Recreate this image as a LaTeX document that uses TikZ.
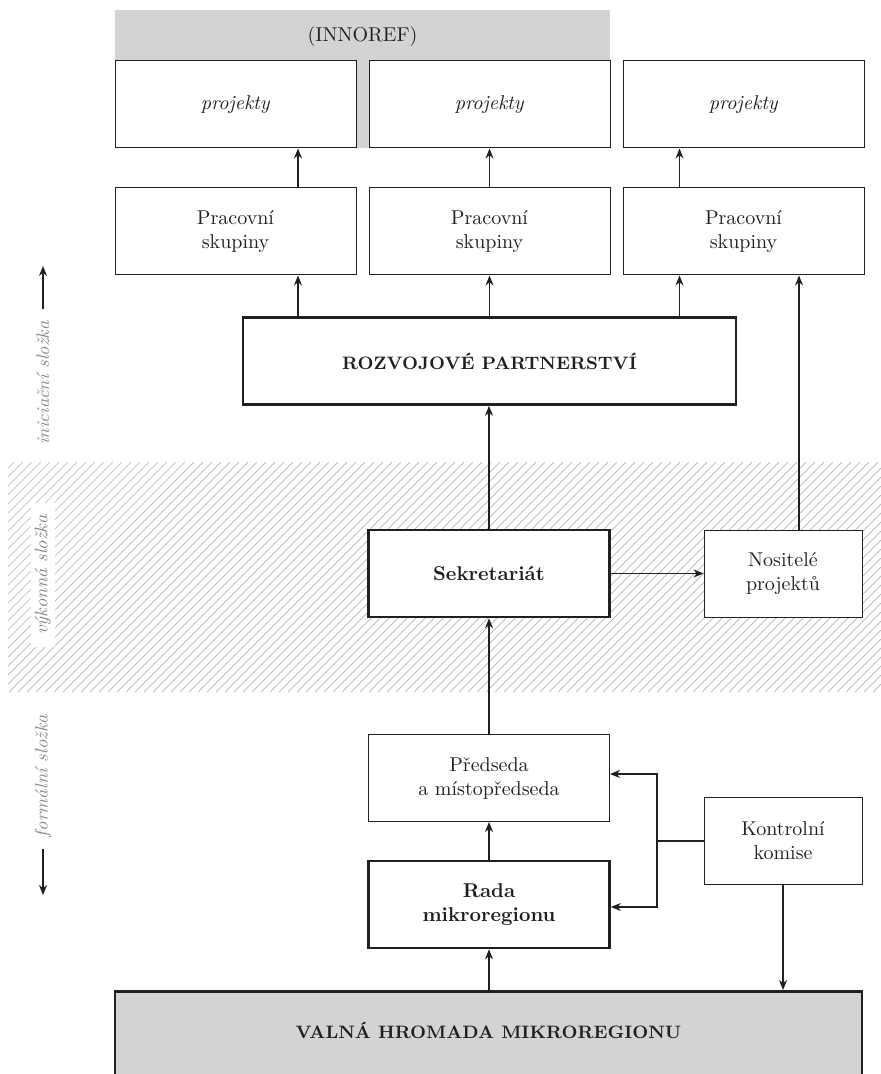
\documentclass[tikz,border=0pt]{standalone}
\usepackage{fontspec}
\usepackage{amsmath, amssymb}
\usepackage{color}
\usetikzlibrary{arrows.meta}

\definecolor{ink}{HTML}{231F20}
\definecolor{boxgray}{HTML}{D1D3D4}
\definecolor{labelgray}{HTML}{8A8A8A}
\definecolor{hatchgray}{HTML}{B4B4B4}

\begin{document}
\begin{tikzpicture}[x=0.5pt, y=-0.5pt, >={Stealth[length=5pt, width=4pt]},
	box/.style={draw=ink, line width=0.5pt, fill=white, minimum width=120.5pt, minimum height=43.5pt, align=center, inner sep=0pt, text=ink},
	boldbox/.style={box, line width=1.3pt},
	link/.style={draw=ink, line width=0.6pt, ->},
	sidelabel/.style={rotate=90, font=\small\itshape, text=labelgray, inner xsep=6pt, inner ysep=2pt}]
	\useasboundingbox (0,0) rectangle (881,1074);
	%innoref band
	\fill[boxgray] (115,10) rectangle (610,148);
	\node[text=ink] (innoref) at (362.5,37) {(INNOREF)};
	%hatched strip
	\begin{scope}
		\clip (8,462) rectangle (881,692);
		\foreach \i in {-26,...,98}
			\draw[hatchgray, line width=0.35pt] (\i*9,692) -- ++(230,-230);
	\end{scope}
	%top row
	\node[box] (proj1) at (235.5,104.5) {\textit{projekty}};
	\node[box] (proj2) at (489.5,104.5) {\textit{projekty}};
	\node[box] (proj3) at (743.5,104.5) {\textit{projekty}};
	\node[box] (prac1) at (235.5,231.5) {Pracovní\\skupiny};
	\node[box] (prac2) at (489.5,231.5) {Pracovní\\skupiny};
	\node[box] (prac3) at (743.5,231.5) {Pracovní\\skupiny};
	\node[boldbox, minimum width=246.5pt, font=\small\bfseries] (rozvoj) at (489.5,361) {ROZVOJOVÉ PARTNERSTVÍ};
	%middle
	\node[boldbox, font=\bfseries] (sekr) at (489,573.5) {Sekretariát};
	\node[box, minimum width=79pt] (nosit) at (783,573.5) {Nositelé\\projektů};
	%bottom
	\node[box] (predseda) at (489,778) {Předseda\\a místopředseda};
	\node[boldbox, font=\bfseries] (rada) at (489,904.5) {Rada\\mikroregionu};
	\node[box, minimum width=79pt] (kontrol) at (783,841) {Kontrolní\\komise};
	\node[boldbox, fill=boxgray, anchor=north, minimum width=373.5pt, text height=23.5pt, text depth=30pt, font=\small\bfseries] (valna) at (488.5,990) {VALNÁ HROMADA MIKROREGIONU};
	%side labels
	\node[sidelabel] (inic) at (43,383) {iniciační složka};
	\node[sidelabel, fill=white] (vykon) at (43,575) {výkonná složka};
	\node[sidelabel] (formal) at (43,776) {formální složka};
	\coordinate (uptip) at (43,266);
	\coordinate (downtip) at (43,895);
	\draw[link] (inic.east) -- (uptip);
	\draw[link] (formal.west) -- (downtip);
	%arrows up the tree
	\coordinate (in1) at ([xshift=31.25pt]prac1.south);
	\coordinate (in2) at (prac2.south);
	\coordinate (in3) at ([xshift=-32pt]prac3.south);
	\draw[link] (in1 |- prac1.north) -- (in1 |- proj1.south);
	\draw[link] (in2 |- prac2.north) -- (in2 |- proj2.south);
	\draw[link] (in3 |- prac3.north) -- (in3 |- proj3.south);
	\draw[link] (in1 |- rozvoj.north) -- (in1);
	\draw[link] (in2 |- rozvoj.north) -- (in2);
	\draw[link] (in3 |- rozvoj.north) -- (in3);
	\draw[link] (sekr.north) -- (sekr.north |- rozvoj.south);
	\draw[link] (sekr.east) -- (nosit.west);
	\draw[link] ([xshift=8pt]nosit.north) -- ([xshift=8pt]nosit.north |- prac3.south);
	\draw[link] (predseda.north) -- (sekr.south);
	\draw[link] (rada.north) -- (predseda.south);
	\draw[link] (valna.north -| rada.south) -- (rada.south);
	\draw[link] (kontrol.south) -- (kontrol.south |- valna.north);
	%control commission
	\coordinate (jn) at (657,841);
	\draw[link, <->] ([yshift=2pt]predseda.east) -| (jn) |- ([yshift=-1.25pt]rada.east);
	\draw[ink, line width=0.6pt] (kontrol.west) -- (jn);
\end{tikzpicture}
\end{document}
